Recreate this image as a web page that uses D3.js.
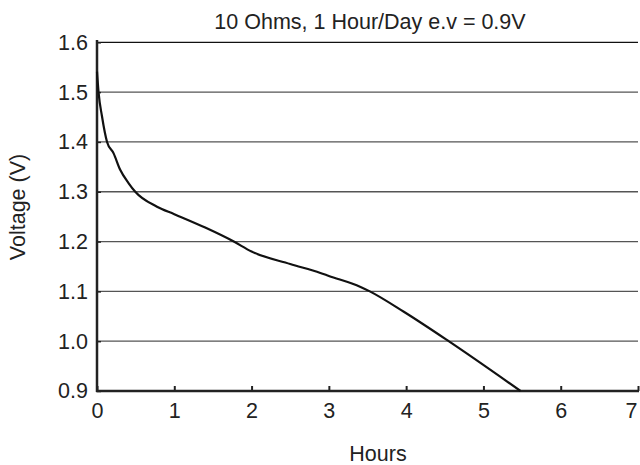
<!DOCTYPE html>
<html><head><meta charset="utf-8">
<script src="https://cdn.jsdelivr.net/npm/d3@7"></script>
<style>body{margin:0;background:#fff}svg{display:block}text{font-family:"Liberation Sans",Arial,sans-serif;fill:#222}</style>
</head><body><svg id="c" width="640" height="465"></svg>
<script>
const title = "10 Ohms, 1 Hour/Day e.v = 0.9V";
const xLabel = "Hours";
const yLabel = "Voltage (V)";
const xTicks = [0,1,2,3,4,5,6,7];
const yTicks = [0.9,1.0,1.1,1.2,1.3,1.4,1.5,1.6];
const hours = [0, 0.02, 0.065, 0.13, 0.215, 0.30, 0.41, 0.495, 0.776, 1.0, 1.4, 1.77, 2.0, 2.5, 2.89, 3.0, 3.41, 3.53, 3.97, 4.55, 5.48];
const volts = [1.541, 1.5, 1.451, 1.4, 1.377, 1.344, 1.317, 1.3, 1.27, 1.255, 1.228, 1.2, 1.18, 1.155, 1.137, 1.131, 1.109, 1.1, 1.059, 1.0, 0.9];

const FS = 21.5;
const svg = d3.select("#c");
const x = d3.scaleLinear().domain([0,7]).range([97,638]);
const y = d3.scaleLinear().domain([0.9,1.6]).range([391,42.3]);

// grid
svg.append("g").selectAll("line").data(yTicks.filter(v=>v>0.9)).join("line")
  .attr("x1",x(0)).attr("x2",x(7)).attr("y1",d=>y(d)).attr("y2",d=>y(d))
  .attr("stroke",d=>d>=1.6?"#111":"#555").attr("stroke-width",d=>d>=1.6?1.2:1.3);

// y axis
const ya = svg.append("g").attr("transform",`translate(${x(0)},0)`)
  .call(d3.axisLeft(y).tickValues(yTicks).tickFormat(d3.format(".1f")).tickSizeInner(-4).tickSizeOuter(0).tickPadding(9));
ya.select(".domain").remove();
ya.selectAll(".tick line").attr("stroke","#222").attr("stroke-width",1.5);
ya.selectAll("text").attr("font-size",FS).attr("fill","#222").attr("font-family","Liberation Sans, Arial, sans-serif");

// x axis
const xa = svg.append("g").attr("transform",`translate(0,${y(0.9)})`)
  .call(d3.axisBottom(x).tickValues(xTicks).tickFormat(d3.format("d")).tickSizeInner(-5).tickSizeOuter(0).tickPadding(12));
xa.select(".domain").remove();
xa.selectAll(".tick line").attr("stroke","#222").attr("stroke-width",2);
xa.selectAll("text").attr("font-size",FS).attr("fill","#222").attr("font-family","Liberation Sans, Arial, sans-serif")
  .attr("dx",d=>d===7?-7:0);

// axis lines
svg.append("line").attr("x1",x(0)).attr("x2",x(0)).attr("y1",40).attr("y2",y(0.9)+1)
  .attr("stroke","#222").attr("stroke-width",2.5);
svg.append("line").attr("x1",x(0)-1).attr("x2",x(7)+1).attr("y1",y(0.9)).attr("y2",y(0.9))
  .attr("stroke","#222").attr("stroke-width",2.5);

// curve
const line = d3.line().x((d,i)=>x(hours[i])).y((d,i)=>y(volts[i])).curve(d3.curveMonotoneX);
svg.append("path").datum(hours).attr("d",line).attr("fill","none").attr("stroke","#111").attr("stroke-width",2.2);

svg.append("text").attr("x",370).attr("y",29).attr("text-anchor","middle").attr("font-size",FS).text(title);
svg.append("text").attr("x",378).attr("y",461).attr("text-anchor","middle").attr("font-size",FS).text(xLabel);
svg.append("text").attr("transform","translate(25,207) rotate(-90)").attr("text-anchor","middle").attr("font-size",FS).text(yLabel);
</script></body></html>
